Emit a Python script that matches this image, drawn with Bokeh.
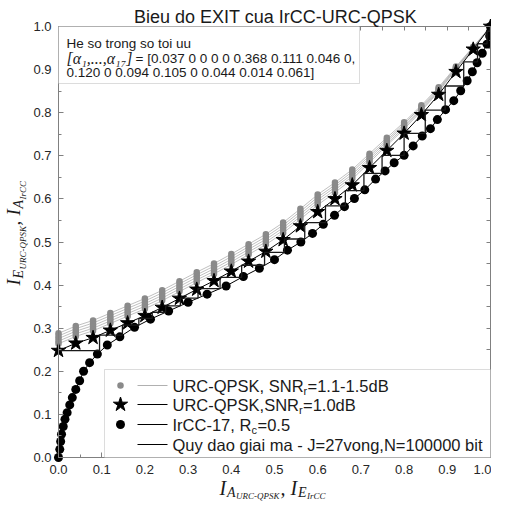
import numpy as np
from bokeh.plotting import figure
from bokeh.models import (Range1d, SingleIntervalTicker, FixedTicker, LinearAxis, BoxAnnotation,
                          Label, PrintfTickFormatter)
from bokeh.embed import file_html
from bokeh.resources import INLINE

# ---------------- data ----------------
urc_x = [0.00, 0.04, 0.08, 0.12, 0.16, 0.20, 0.24, 0.28, 0.32, 0.36, 0.40, 0.44, 0.48,
         0.52, 0.56, 0.60, 0.64, 0.68, 0.72, 0.76, 0.80, 0.84, 0.88, 0.92, 0.96, 1.00]
urc_10 = [0.248, 0.265, 0.278, 0.295, 0.312, 0.329, 0.348, 0.369, 0.390, 0.410, 0.432, 0.455, 0.478,
          0.505, 0.537, 0.570, 0.600, 0.632, 0.672, 0.712, 0.752, 0.795, 0.842, 0.895, 0.947, 1.000]
urc_11 = [0.264, 0.281, 0.294, 0.311, 0.328, 0.345, 0.364, 0.385, 0.406, 0.426, 0.448, 0.471, 0.494,
          0.521, 0.553, 0.586, 0.615, 0.646, 0.685, 0.724, 0.762, 0.804, 0.849, 0.900, 0.949, 1.000]
urc_12 = [0.270, 0.287, 0.300, 0.317, 0.334, 0.351, 0.370, 0.391, 0.412, 0.432, 0.454, 0.477, 0.500,
          0.527, 0.559, 0.592, 0.621, 0.652, 0.690, 0.728, 0.766, 0.807, 0.851, 0.902, 0.950, 1.000]
urc_13 = [0.276, 0.293, 0.306, 0.323, 0.340, 0.357, 0.376, 0.397, 0.418, 0.438, 0.460, 0.483, 0.506,
          0.533, 0.565, 0.598, 0.627, 0.657, 0.695, 0.733, 0.770, 0.810, 0.854, 0.903, 0.951, 1.000]
urc_14 = [0.282, 0.299, 0.312, 0.329, 0.346, 0.363, 0.382, 0.403, 0.424, 0.444, 0.466, 0.489, 0.512,
          0.539, 0.571, 0.604, 0.632, 0.663, 0.700, 0.737, 0.774, 0.814, 0.856, 0.905, 0.952, 1.000]
urc_15 = [0.288, 0.305, 0.318, 0.335, 0.352, 0.369, 0.388, 0.409, 0.430, 0.450, 0.472, 0.495, 0.518,
          0.545, 0.577, 0.610, 0.638, 0.668, 0.705, 0.742, 0.778, 0.817, 0.859, 0.907, 0.953, 1.000]
urc_gray = [urc_11, urc_12, urc_13, urc_14, urc_15]

ircc_x = [0.000, 0.003, 0.005, 0.007, 0.011, 0.015, 0.020, 0.026, 0.032, 0.040,
          0.049, 0.058, 0.072, 0.090, 0.113, 0.142, 0.176, 0.213, 0.255, 0.300,
          0.344, 0.388, 0.428, 0.465, 0.500, 0.530, 0.561, 0.588, 0.613, 0.639,
          0.662, 0.685, 0.709, 0.734, 0.756, 0.777, 0.800, 0.821, 0.842, 0.861,
          0.877, 0.896, 0.915, 0.931, 0.946, 0.958, 0.969, 0.981, 0.992, 0.998, 1.000]
ircc_y = [0.000, 0.019, 0.037, 0.054, 0.072, 0.089, 0.104, 0.122, 0.139, 0.158,
          0.178, 0.200, 0.220, 0.240, 0.261, 0.280, 0.302, 0.321, 0.340, 0.360,
          0.379, 0.398, 0.420, 0.439, 0.459, 0.481, 0.500, 0.520, 0.541, 0.562,
          0.582, 0.601, 0.621, 0.646, 0.665, 0.684, 0.701, 0.723, 0.746, 0.763,
          0.784, 0.807, 0.828, 0.851, 0.874, 0.895, 0.916, 0.938, 0.959, 0.978, 1.000]

traj_x = [0.000, 0.095, 0.148, 0.186, 0.217, 0.248, 0.282, 0.323, 0.374, 0.424, 0.477, 0.523,
          0.570, 0.618, 0.664, 0.707, 0.749, 0.800, 0.849, 0.895, 0.938, 0.970, 0.992, 0.999]
traj_y = [0.248, 0.284, 0.307, 0.323, 0.337, 0.352, 0.370, 0.392, 0.418, 0.446, 0.476, 0.507,
          0.545, 0.584, 0.619, 0.659, 0.701, 0.752, 0.806, 0.862, 0.918, 0.960, 0.989, 0.999]

outer_ticks = [0.00, 0.05, 0.10, 0.15, 0.20, 0.25, 0.30, 0.35, 0.40, 0.45, 0.50,
               0.55, 0.60, 0.65, 0.70, 0.75, 0.80, 0.85, 0.90, 0.95, 1.00]

title_text = "Bieu do EXIT cua IrCC-URC-QPSK"
box_line1 = "He so trong so toi uu"
box_line2a = "[α₁,...,α₁₇]"
box_line2b = "= [0.037 0 0 0 0 0.368 0.111 0.046 0,"
box_line3 = "0.120 0 0.094 0.105 0 0.044 0.014 0.061]"

# ---------------- geometry (page pixels) ----------------
W, H = 491, 502                 # canvas size; canvas sits at page (8, 8)
PX0, PX1 = 66, 498              # page x of data 0 and 1
PY0, PY1 = 465, 34              # page y of data 0 and 1
sxs = (PX1 - PX0)
sys_ = (PY0 - PY1)
x_start = -(PX0 - 8) / sxs
x_end = x_start + W / sxs
y_start = -((8 + H) - PY0) / sys_
y_end = y_start + H / sys_

def dx(page_x):
    return (page_x - PX0) / sxs
def dy(page_y):
    return (PY0 - page_y) / sys_

p = figure(width=W, height=H, x_range=Range1d(x_start, x_end), y_range=Range1d(y_start, y_end),
           output_backend="svg", toolbar_location=None, title=None,
           x_axis_type=None, y_axis_type=None,
           min_border_left=0, min_border_right=0, min_border_top=0, min_border_bottom=0)
p.xgrid.visible = False
p.ygrid.visible = False
p.outline_line_color = None
p.background_fill_color = "white"
p.border_fill_color = "white"

AX = "#808080"
def style_axis(ax):
    ax.axis_line_color = AX
    ax.major_tick_line_color = AX
    ax.minor_tick_line_color = AX
    ax.major_tick_in = 5
    ax.major_tick_out = 0
    ax.minor_tick_in = 3
    ax.minor_tick_out = 0
    ax.major_label_text_font = "Liberation Sans"
    ax.major_label_text_font_size = "13px"
    ax.major_label_text_color = "#262626"
    ax.major_label_standoff = 7
    return ax

xb = style_axis(LinearAxis(fixed_location=0, bounds=(0, 1),
                           ticker=SingleIntervalTicker(interval=0.1, num_minor_ticks=2),
                           formatter=PrintfTickFormatter(format="%.1f")))
yl = style_axis(LinearAxis(fixed_location=0, bounds=(0, 1),
                           ticker=SingleIntervalTicker(interval=0.1, num_minor_ticks=2),
                           formatter=PrintfTickFormatter(format="%.1f")))
xt = style_axis(LinearAxis(fixed_location=1, bounds=(0, 1),
                           ticker=FixedTicker(ticks=[], minor_ticks=outer_ticks)))
yr = style_axis(LinearAxis(fixed_location=1, bounds=(0, 1),
                           ticker=FixedTicker(ticks=[], minor_ticks=outer_ticks)))
xt.minor_tick_in = 4
yr.minor_tick_in = 4
p.add_layout(xb, "below")
p.add_layout(yl, "left")
p.add_layout(xt, "above")
p.add_layout(yr, "right")

GRAY_DOT = "#8a8a8a"
GRAY_LINE = "#b0b0b0"

# gray curves (SNR 1.1 - 1.5 dB)
for ys in urc_gray:
    p.line(urc_x, ys, line_color=GRAY_LINE, line_width=0.8)
for ys in urc_gray:
    p.scatter(urc_x, ys, marker="circle", size=6.5, fill_color=GRAY_DOT, line_color=None)

# IrCC curve
p.line(ircc_x, ircc_y, line_color="black", line_width=1)
p.scatter(ircc_x, ircc_y, marker="circle", size=9, fill_color="black", line_color=None)

# URC 1.0 dB curve with stars
p.line(urc_x, urc_10, line_color="black", line_width=1)
p.scatter(urc_x, urc_10, marker="star", size=15, fill_color="black", line_color="black")

# decoding trajectory (staircase)
st_x, st_y = [traj_x[0]], [traj_y[0]]
for i in range(1, len(traj_x)):
    st_x += [traj_x[i], traj_x[i]]
    st_y += [traj_y[i - 1], traj_y[i]]
p.line(st_x, st_y, line_color="#1a1a1a", line_width=1.3)

# ---------------- text helper (page pixel positions) ----------------
def lab(text, page_x, page_y, size, font="Liberation Sans", style="normal", align="left",
        baseline="alphabetic", angle=0, color="#1a1a1a"):
    p.add_layout(Label(x=page_x - 8, y=(8 + H) - page_y, x_units="screen", y_units="screen",
                       text=text, text_font=font, text_font_size=f"{size}px",
                       text_font_style=style, text_align=align, text_baseline=baseline,
                       angle=angle, text_color=color))

# ---------------- coefficient box ----------------
p.add_layout(BoxAnnotation(left=0, right=dx(367), bottom=dy(91), top=1.0,
                           fill_color="white", fill_alpha=1, line_color="#8c8c8c", line_width=1))
lab(box_line1, 74, 51, 13.5)
lab(box_line2a, 74, 66, 16, font="Liberation Serif", style="italic")
lab(box_line2b, 143, 66, 13.5)
lab(box_line3, 74, 80, 13.5)

# ---------------- legend ----------------
p.add_layout(BoxAnnotation(left=dx(112), right=1.0, bottom=0, top=dy(377),
                           fill_color="white", fill_alpha=1, line_color="#8c8c8c", line_width=1))
leg_py = [393, 412, 432, 452]
mk_x = dx(128)
p.scatter([mk_x], [dy(leg_py[0])], marker="circle", size=6.5, fill_color=GRAY_DOT,
          line_color=None, level="overlay")
p.scatter([mk_x], [dy(leg_py[1])], marker="star", size=15, fill_color="black",
          line_color="black", level="overlay")
p.scatter([mk_x], [dy(leg_py[2])], marker="circle", size=9, fill_color="black",
          line_color=None, level="overlay")
for k, col in enumerate([GRAY_LINE, "black", "black", "black"]):
    p.line([dx(145), dx(175)], [dy(leg_py[k])] * 2, line_color=col, line_width=1,
           level="overlay")

TX = 180
FS = 16.5
lab("URC-QPSK, SNR", TX, leg_py[0], FS, baseline="middle")
lab("r", TX + 131, leg_py[0] + 5, 11, baseline="middle")
lab("=1.1-1.5dB", TX + 135, leg_py[0], FS, baseline="middle")
lab("URC-QPSK,SNR", TX, leg_py[1], FS, baseline="middle")
lab("r", TX + 126.5, leg_py[1] + 5, 11, baseline="middle")
lab("=1.0dB", TX + 130.5, leg_py[1], FS, baseline="middle")
lab("IrCC-17, R", TX, leg_py[2], FS, baseline="middle")
lab("c", TX + 79, leg_py[2] + 5, 11, baseline="middle")
lab("=0.5", TX + 85, leg_py[2], FS, baseline="middle")
lab("Quy dao giai ma - J=27vong,N=100000 bit", TX, leg_py[3], FS, baseline="middle")

# ---------------- title ----------------
lab(title_text, 283, 24, 18, align="center")

# ---------------- axis labels (composite, with subscripts) ----------------
SER = "Liberation Serif"
X0 = 227
lab("I", X0, 495, 20, font=SER, style="italic")
lab("A", X0 + 7.5, 500, 14, font=SER, style="italic")
lab("URC-QPSK", X0 + 16.5, 503.5, 9, font=SER, style="italic")
lab(",", X0 + 61, 495, 20, font=SER, style="italic")
lab("I", X0 + 71, 495, 20, font=SER, style="italic")
lab("E", X0 + 78.5, 500, 14, font=SER, style="italic")
lab("IrCC", X0 + 87.5, 503.5, 9, font=SER, style="italic")

Y0 = 293
A90 = np.pi / 2
lab("I", 21, Y0, 19, font=SER, style="italic", angle=A90)
lab("E", 26, Y0 - 7, 14, font=SER, style="italic", angle=A90)
lab("URC-QPSK", 30, Y0 - 16, 9, font=SER, style="italic", angle=A90)
lab(",", 21, Y0 - 60, 19, font=SER, style="italic", angle=A90)
lab("I", 21, Y0 - 70, 19, font=SER, style="italic", angle=A90)
lab("A", 26, Y0 - 77, 14, font=SER, style="italic", angle=A90)
lab("IrCC", 30, Y0 - 86, 9, font=SER, style="italic", angle=A90)

open("out.html", "w").write(file_html(p, INLINE))
